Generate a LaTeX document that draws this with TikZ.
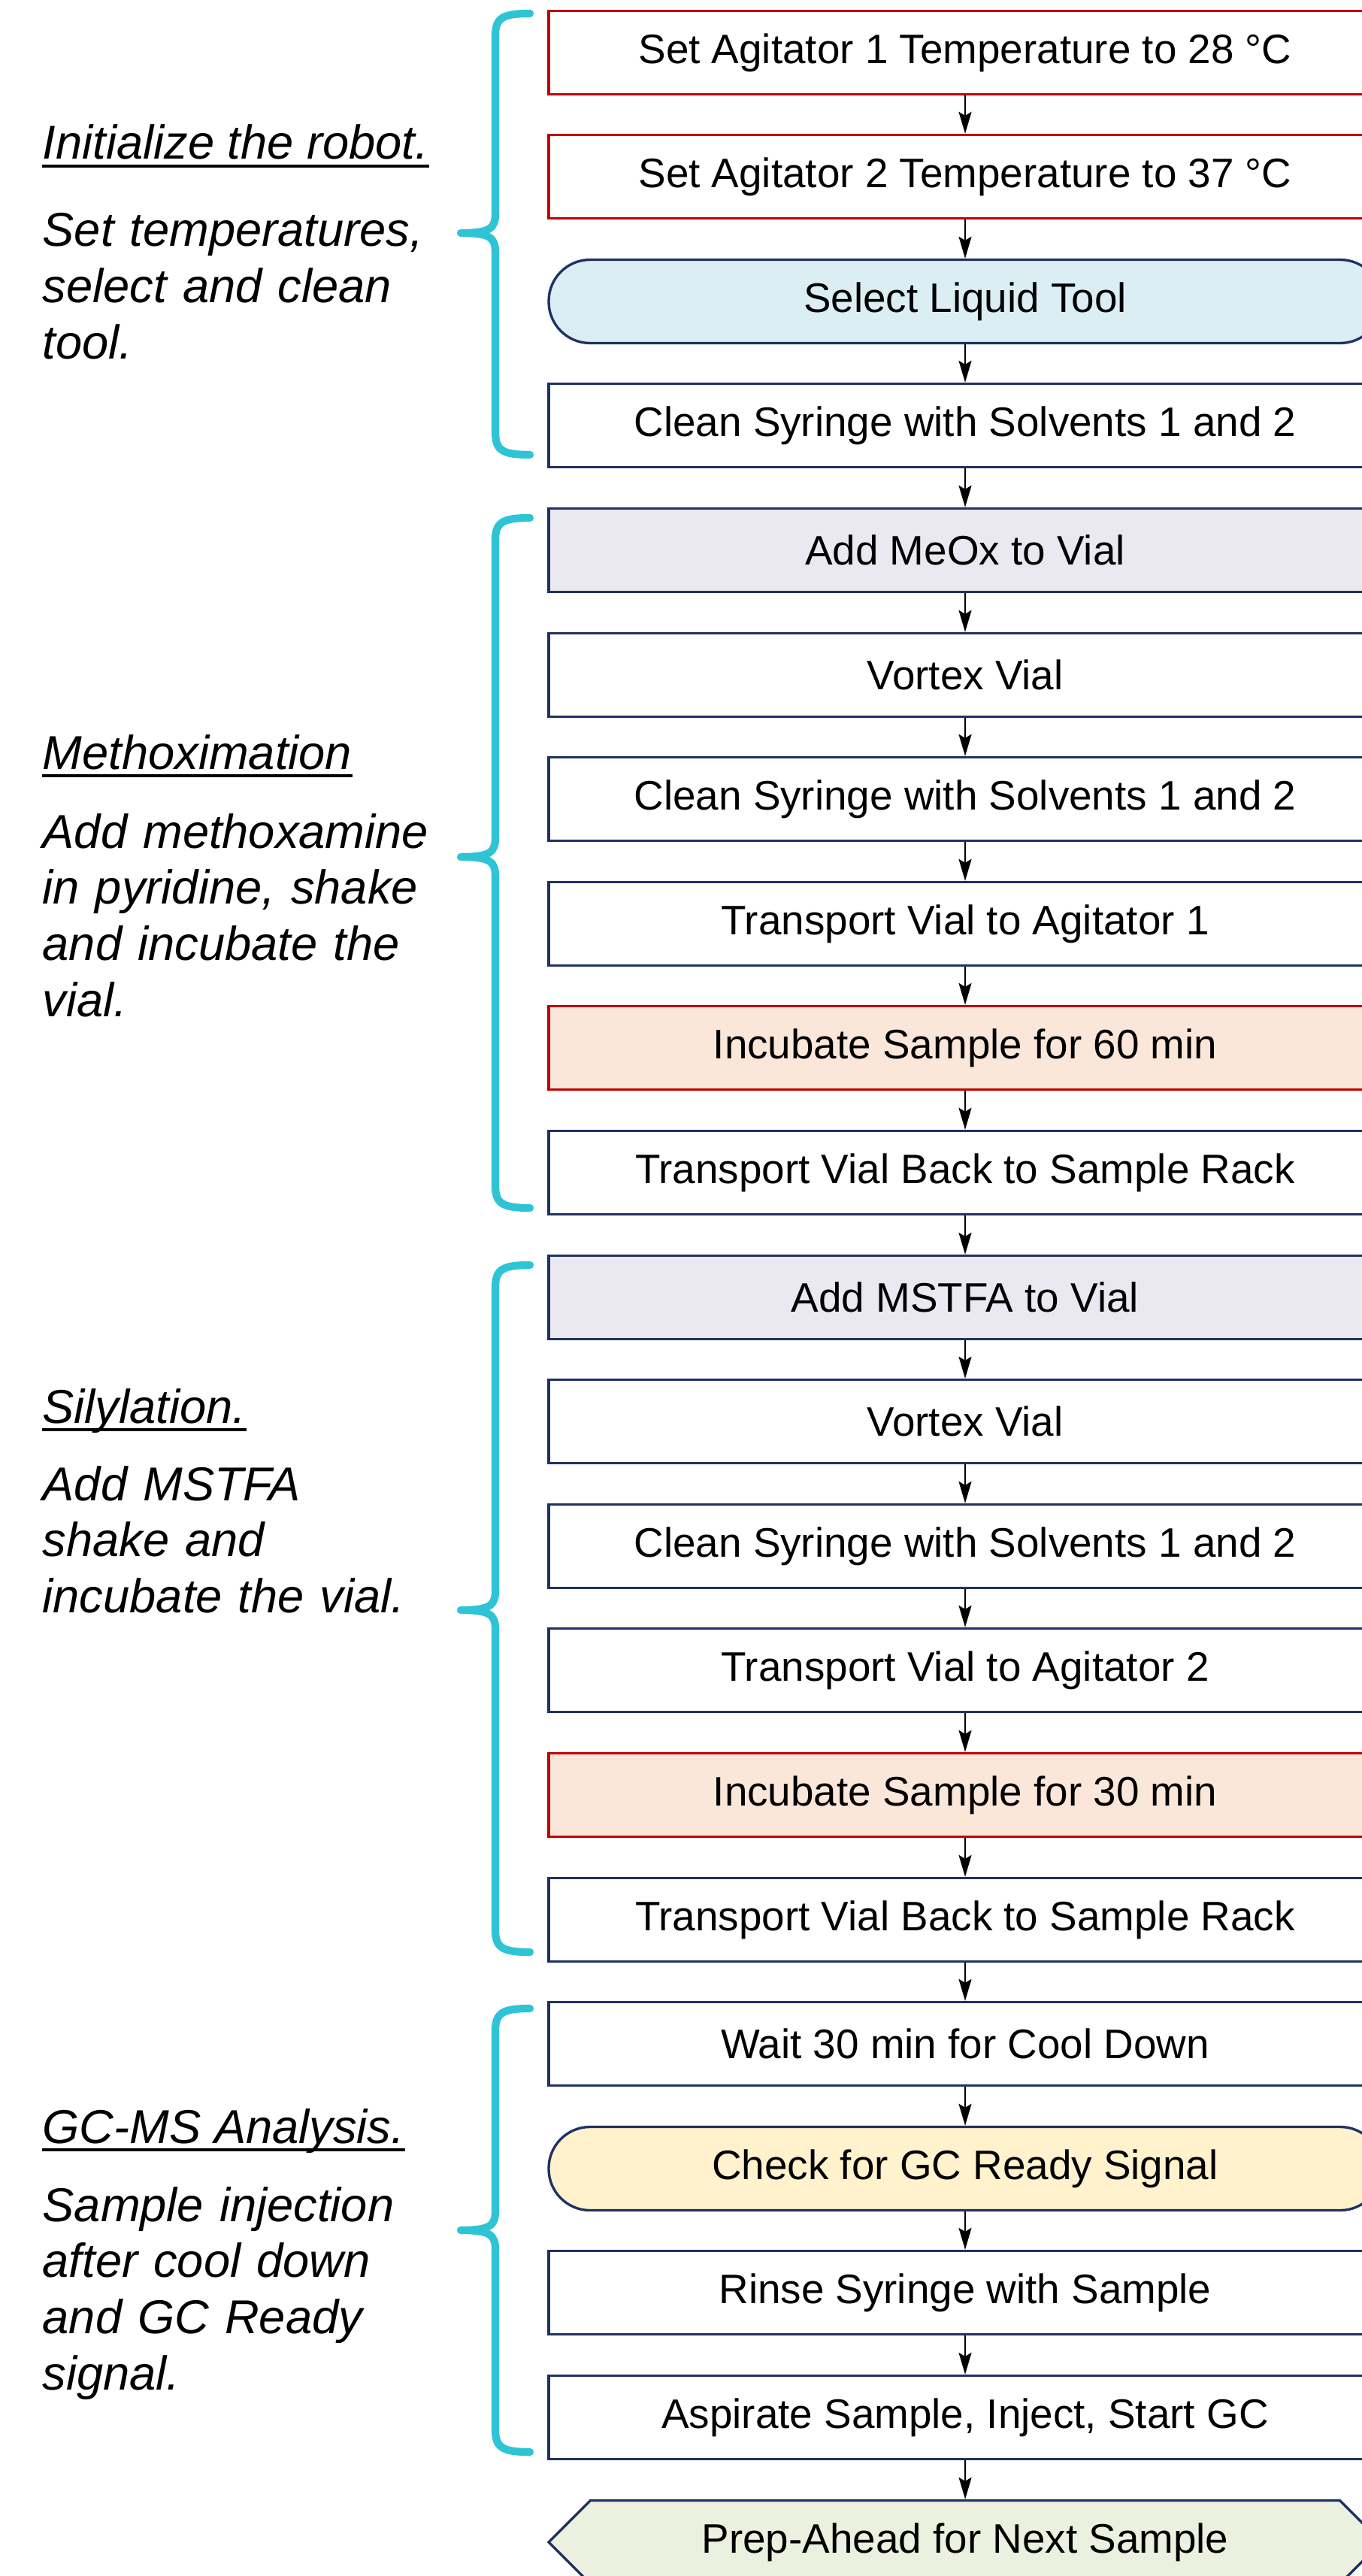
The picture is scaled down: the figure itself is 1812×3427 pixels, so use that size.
\documentclass[tikz,border=0pt]{standalone}
\usepackage{fontspec}
\setmainfont{Liberation Sans}
\usetikzlibrary{arrows.meta,shapes.symbols,positioning}

\definecolor{stepred}{RGB}{192,0,0}
\definecolor{stepnavy}{RGB}{31,50,99}
\definecolor{bracecyan}{RGB}{46,196,214}
\definecolor{toolblue}{RGB}{218,238,243}
\definecolor{reagentgray}{RGB}{234,232,240}
\definecolor{incubpeach}{RGB}{251,231,217}
\definecolor{gcyellow}{RGB}{255,242,204}
\definecolor{nextgreen}{RGB}{235,241,222}

\begin{document}
\begin{tikzpicture}[x=0.1mm,y=-0.1mm,
  box/.style={draw=stepnavy,line width=0.95pt,fill=white,inner sep=0pt,
    minimum width=110.8mm,minimum height=11.1mm,
    font=\fontsize{15.6}{18}\selectfont},
  redbox/.style={box,draw=stepred},
  toolbox/.style={box,fill=toolblue,rounded corners=5.5mm},
  reagent/.style={box,fill=reagentgray},
  incub/.style={box,draw=stepred,fill=incubpeach},
  gcbox/.style={box,fill=gcyellow,rounded corners=5.5mm},
  nextbox/.style={box,fill=nextgreen,signal,signal to=west and east,
    signal pointer angle=90},
  flow/.style={line width=0.55pt,-{Stealth[length=2.9mm,width=1.7mm,inset=0.5mm]}},
  brace/.style={bracecyan,line width=2.9pt,line cap=round,line join=round},
  head/.style={anchor=base west,inner sep=0pt,
    font=\fontsize{18}{21.3}\selectfont\itshape},
  note/.style={head,align=left,text width=60mm},
  uline/.style={line width=1.4pt}]
\useasboundingbox (0,0) rectangle (1812,3427);
\fill[white] (0,0) rectangle (1812,3427);
\clip (0,0) rectangle (1812,3427);

% steps
\node[redbox] (agitA) at (1284,70) {Set Agitator 1 Temperature to 28 °C};
\node[redbox] (agitB) at (1284,235) {Set Agitator 2 Temperature to 37 °C};
\node[toolbox] (seltool) at (1284,401) {Select Liquid Tool};
\node[box] (cleanA) at (1284,566) {Clean Syringe with Solvents 1 and 2};
\node[reagent] (meox) at (1284,732) {Add MeOx to Vial};
\node[box] (vortexA) at (1284,898) {Vortex Vial};
\node[box] (cleanB) at (1284,1063) {Clean Syringe with Solvents 1 and 2};
\node[box] (toagitA) at (1284,1229) {Transport Vial to Agitator 1};
\node[incub] (incubA) at (1284,1394) {Incubate Sample for 60 min};
\node[box] (backA) at (1284,1560) {Transport Vial Back to Sample Rack};
\node[reagent] (mstfa) at (1284,1726) {Add MSTFA to Vial};
\node[box] (vortexB) at (1284,1891) {Vortex Vial};
\node[box] (cleanC) at (1284,2057) {Clean Syringe with Solvents 1 and 2};
\node[box] (toagitB) at (1284,2222) {Transport Vial to Agitator 2};
\node[incub] (incubB) at (1284,2388) {Incubate Sample for 30 min};
\node[box] (backB) at (1284,2554) {Transport Vial Back to Sample Rack};
\node[box] (cool) at (1284,2719) {Wait 30 min for Cool Down};
\node[gcbox] (gcready) at (1284,2885) {Check for GC Ready Signal};
\node[box] (rinse) at (1284,3050) {Rinse Syringe with Sample};
\node[box] (inject) at (1284,3216) {Aspirate Sample, Inject, Start GC};
\node[nextbox] (prep) at (1284,3382) {Prep-Ahead for Next Sample};

\draw[flow] (agitA) -- (agitB);
\draw[flow] (agitB) -- (seltool);
\draw[flow] (seltool) -- (cleanA);
\draw[flow] (cleanA) -- (meox);
\draw[flow] (meox) -- (vortexA);
\draw[flow] (vortexA) -- (cleanB);
\draw[flow] (cleanB) -- (toagitA);
\draw[flow] (toagitA) -- (incubA);
\draw[flow] (incubA) -- (backA);
\draw[flow] (backA) -- (mstfa);
\draw[flow] (mstfa) -- (vortexB);
\draw[flow] (vortexB) -- (cleanC);
\draw[flow] (cleanC) -- (toagitB);
\draw[flow] (toagitB) -- (incubB);
\draw[flow] (incubB) -- (backB);
\draw[flow] (backB) -- (cool);
\draw[flow] (cool) -- (gcready);
\draw[flow] (gcready) -- (rinse);
\draw[flow] (rinse) -- (inject);
\draw[flow] (inject) -- (prep);

% braces
\draw[brace] (705,18) .. controls (668,18) and (659,24) .. (659,48)
  -- (659,284) .. controls (659,304) and (652,310) .. (613,310)
  .. controls (652,310) and (659,316) .. (659,336)
  -- (659,575) .. controls (659,599) and (668,605) .. (705,605);
\draw[brace] (705,689) .. controls (668,689) and (659,695) .. (659,719)
  -- (659,1114) .. controls (659,1134) and (652,1140) .. (613,1140)
  .. controls (652,1140) and (659,1146) .. (659,1166)
  -- (659,1577) .. controls (659,1601) and (668,1607) .. (705,1607);
\draw[brace] (705,1683) .. controls (668,1683) and (659,1689) .. (659,1713)
  -- (659,2116) .. controls (659,2136) and (652,2142) .. (613,2142)
  .. controls (652,2142) and (659,2148) .. (659,2168)
  -- (659,2567) .. controls (659,2591) and (668,2597) .. (705,2597);
\draw[brace] (705,2672) .. controls (668,2672) and (659,2678) .. (659,2702)
  -- (659,2941) .. controls (659,2961) and (652,2967) .. (613,2967)
  .. controls (652,2967) and (659,2973) .. (659,2993)
  -- (659,3232) .. controls (659,3256) and (668,3262) .. (705,3262);

% phase notes
\node[head] (hinit) at (56,212) {Initialize the robot.};
\draw[uline] ([yshift=-0.9mm]hinit.base west) -- ([yshift=-0.9mm]hinit.base east);
\node[note] (tinit) at (56,328) {Set temperatures,\\select and clean\\tool.};

\node[head] (hmeox) at (56,1023) {Methoximation};
\draw[uline] ([yshift=-0.9mm]hmeox.base west) -- ([yshift=-0.9mm]hmeox.base east);
\node[note] (tmeox) at (56,1128) {Add methoxamine\\in pyridine, shake\\and incubate the\\vial.};

\node[head] (hsily) at (56,1893) {Silylation.};
\draw[uline] ([yshift=-0.9mm]hsily.base west) -- ([yshift=-0.9mm]hsily.base east);
\node[note] (tsily) at (56,1996) {Add MSTFA\\shake and\\incubate the vial.};

\node[head] (hgcms) at (56,2851) {GC-MS Analysis.};
\draw[uline] ([yshift=-0.9mm]hgcms.base west) -- ([yshift=-0.9mm]hgcms.base east);
\node[note] (tgcms) at (56,2955) {Sample injection\\after cool down\\and GC Ready\\signal.};
\end{tikzpicture}
\end{document}
